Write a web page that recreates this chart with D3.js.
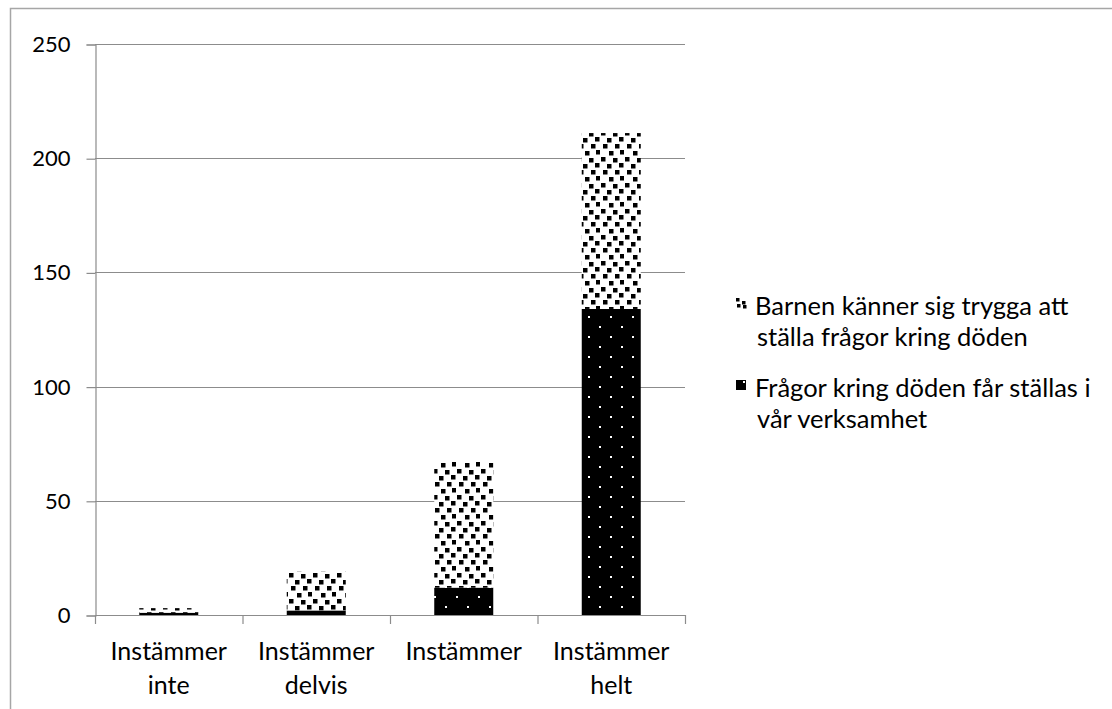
<!DOCTYPE html>
<html>
<head>
<meta charset="utf-8">
<script src="https://cdn.jsdelivr.net/npm/d3@7"></script>
<style>
  body { margin: 0; background: #fff; }
  svg text { font-family: Lato, "Open Sans", sans-serif; fill: #000; }
</style>
</head>
<body>
<script>
const svgWidth = 1112;
const svgHeight = 709;

// data
const categories = [['Instämmer', 'inte'], ['Instämmer', 'delvis'], ['Instämmer', ''], ['Instämmer', 'helt']];
const fragorValues = [1, 2, 12, 134];     // Frågor kring döden får ställas i vår verksamhet
const barnenValues = [2, 17, 55, 77];     // Barnen känner sig trygga att ställa frågor kring döden
const yTicks = [0, 50, 100, 150, 200, 250];
const seriesNames = [
    ['Barnen känner sig trygga att', 'ställa frågor kring döden'],
    ['Frågor kring döden får ställas i', 'vår verksamhet']
];

const margin = {left: 95, right: 427, top: 44, bottom: 94};

const svg = d3.select('body').append('svg')
    .attr('width', svgWidth)
    .attr('height', svgHeight);

// fill patterns
const defs = svg.append('defs');
const dots = defs.append('pattern')
    .attr('id', 'dots')
    .attr('patternUnits', 'userSpaceOnUse')
    .attr('width', 22).attr('height', 20);
dots.append('rect').attr('width', 22).attr('height', 20).attr('fill', '#000');
dots.append('rect').attr('x', 5).attr('y', 6).attr('width', 2).attr('height', 2).attr('fill', '#fff');
dots.append('rect').attr('x', 16).attr('y', 16).attr('width', 2).attr('height', 2).attr('fill', '#fff');

// large confetti
const confetti = defs.append('pattern')
    .attr('id', 'confetti')
    .attr('patternUnits', 'userSpaceOnUse')
    .attr('width', 24).attr('height', 26);
confetti.append('rect').attr('width', 24).attr('height', 26).attr('fill', '#fff');
[[1, 1], [13, 2], [7, 8], [19, 7], [3, 14], [15, 14], [9, 21], [20, 20]].forEach(p => {
    confetti.append('rect').attr('x', p[0]).attr('y', p[1])
        .attr('width', 4.5).attr('height', 4.5).attr('fill', '#000');
});

// outer frame
svg.append('rect')
    .attr('x', 10.5).attr('y', 8.5)
    .attr('width', 1200).attr('height', 800)
    .attr('fill', 'none').attr('stroke', '#a6a6a6').attr('stroke-width', 1.5);

const x = d3.scaleBand()
    .domain(d3.range(categories.length))
    .range([margin.left, svgWidth - margin.right])
    .paddingInner(0.6).paddingOuter(0.3);

const y = d3.scaleLinear()
    .domain([0, 250])
    .range([svgHeight - margin.bottom, margin.top]);

// gridlines
svg.append('g').selectAll('line')
    .data(yTicks.slice(1))
    .enter().append('line')
    .attr('x1', margin.left).attr('x2', svgWidth - margin.right)
    .attr('y1', d => Math.round(y(d)) + 0.5).attr('y2', d => Math.round(y(d)) + 0.5)
    .attr('stroke', '#8c8c8c').attr('stroke-width', 1.2);

// y axis
const yAxis = svg.append('g')
    .attr('transform', 'translate(' + (margin.left + 0.5) + ',0.5)')
    .call(d3.axisLeft(y).tickValues(yTicks).tickSize(9).tickPadding(16));
yAxis.selectAll('line, path').attr('stroke', '#8c8c8c').attr('stroke-width', 1.2);
yAxis.selectAll('text').attr('font-size', 22).style('font-family', 'Lato, sans-serif');

// stacked bars
const stacked = d3.range(categories.length).map(i => ({i: i, a: fragorValues[i], b: barnenValues[i]}));

svg.append('g').selectAll('rect')
    .data(stacked)
    .enter().append('rect')
    .attr('x', d => x(d.i)).attr('width', x.bandwidth())
    .attr('y', d => y(d.a)).attr('height', d => y(0) - y(d.a))
    .attr('fill', 'url(#dots)');

svg.append('g').selectAll('rect')
    .data(stacked)
    .enter().append('rect')
    .attr('x', d => x(d.i)).attr('width', x.bandwidth())
    .attr('y', d => y(d.a + d.b)).attr('height', d => y(d.a) - y(d.a + d.b))
    .attr('fill', 'url(#confetti)');

// x axis
const step = x.step();
const xAxisG = svg.append('g');
xAxisG.append('line')
    .attr('x1', margin.left).attr('x2', svgWidth - margin.right)
    .attr('y1', Math.round(y(0)) + 0.5).attr('y2', Math.round(y(0)) + 0.5)
    .attr('stroke', '#8c8c8c').attr('stroke-width', 1.2);
xAxisG.selectAll('.xtick')
    .data(d3.range(categories.length + 1))
    .enter().append('line')
    .attr('class', 'xtick')
    .attr('x1', i => margin.left + i * step + 0.5).attr('x2', i => margin.left + i * step + 0.5)
    .attr('y1', y(0)).attr('y2', y(0) + 9)
    .attr('stroke', '#8c8c8c').attr('stroke-width', 1.2);

const labels = xAxisG.selectAll('.xlabel')
    .data(categories)
    .enter().append('text')
    .attr('class', 'xlabel')
    .attr('text-anchor', 'middle')
    .attr('font-size', 25);
labels.each(function(d, i) {
    const cx = x(i) + x.bandwidth() / 2;
    d3.select(this).selectAll('tspan')
        .data(d.filter(s => s !== ''))
        .enter().append('tspan')
        .attr('x', cx)
        .attr('y', (s, j) => 660 + j * 34)
        .text(s => s);
});

// legend
const legendY = [307, 389];
const legend = svg.append('g');
seriesNames.forEach((lines, k) => {
    legend.append('rect')
        .attr('x', 736).attr('y', legendY[k] - 9)
        .attr('width', 10).attr('height', 10)
        .attr('fill', k === 0 ? '#fff' : '#000');
    if (k === 0) {
        [[736, 298], [742, 301], [737, 304], [743, 305]].forEach(p => {
            legend.append('rect').attr('x', p[0]).attr('y', p[1])
                .attr('width', 3.5).attr('height', 3.5).attr('fill', '#000');
        });
    } else {
        legend.append('rect').attr('x', 743).attr('y', legendY[k] - 8)
            .attr('width', 2).attr('height', 2).attr('fill', '#fff');
    }
    legend.append('text')
        .attr('font-size', 25.5)
        .selectAll('tspan')
        .data(lines)
        .enter().append('tspan')
        .attr('x', (s, j) => j === 0 ? 755 : 757)
        .attr('y', (s, j) => legendY[k] + 8 + j * 31)
        .text(s => s);
});
</script>
</body>
</html>
